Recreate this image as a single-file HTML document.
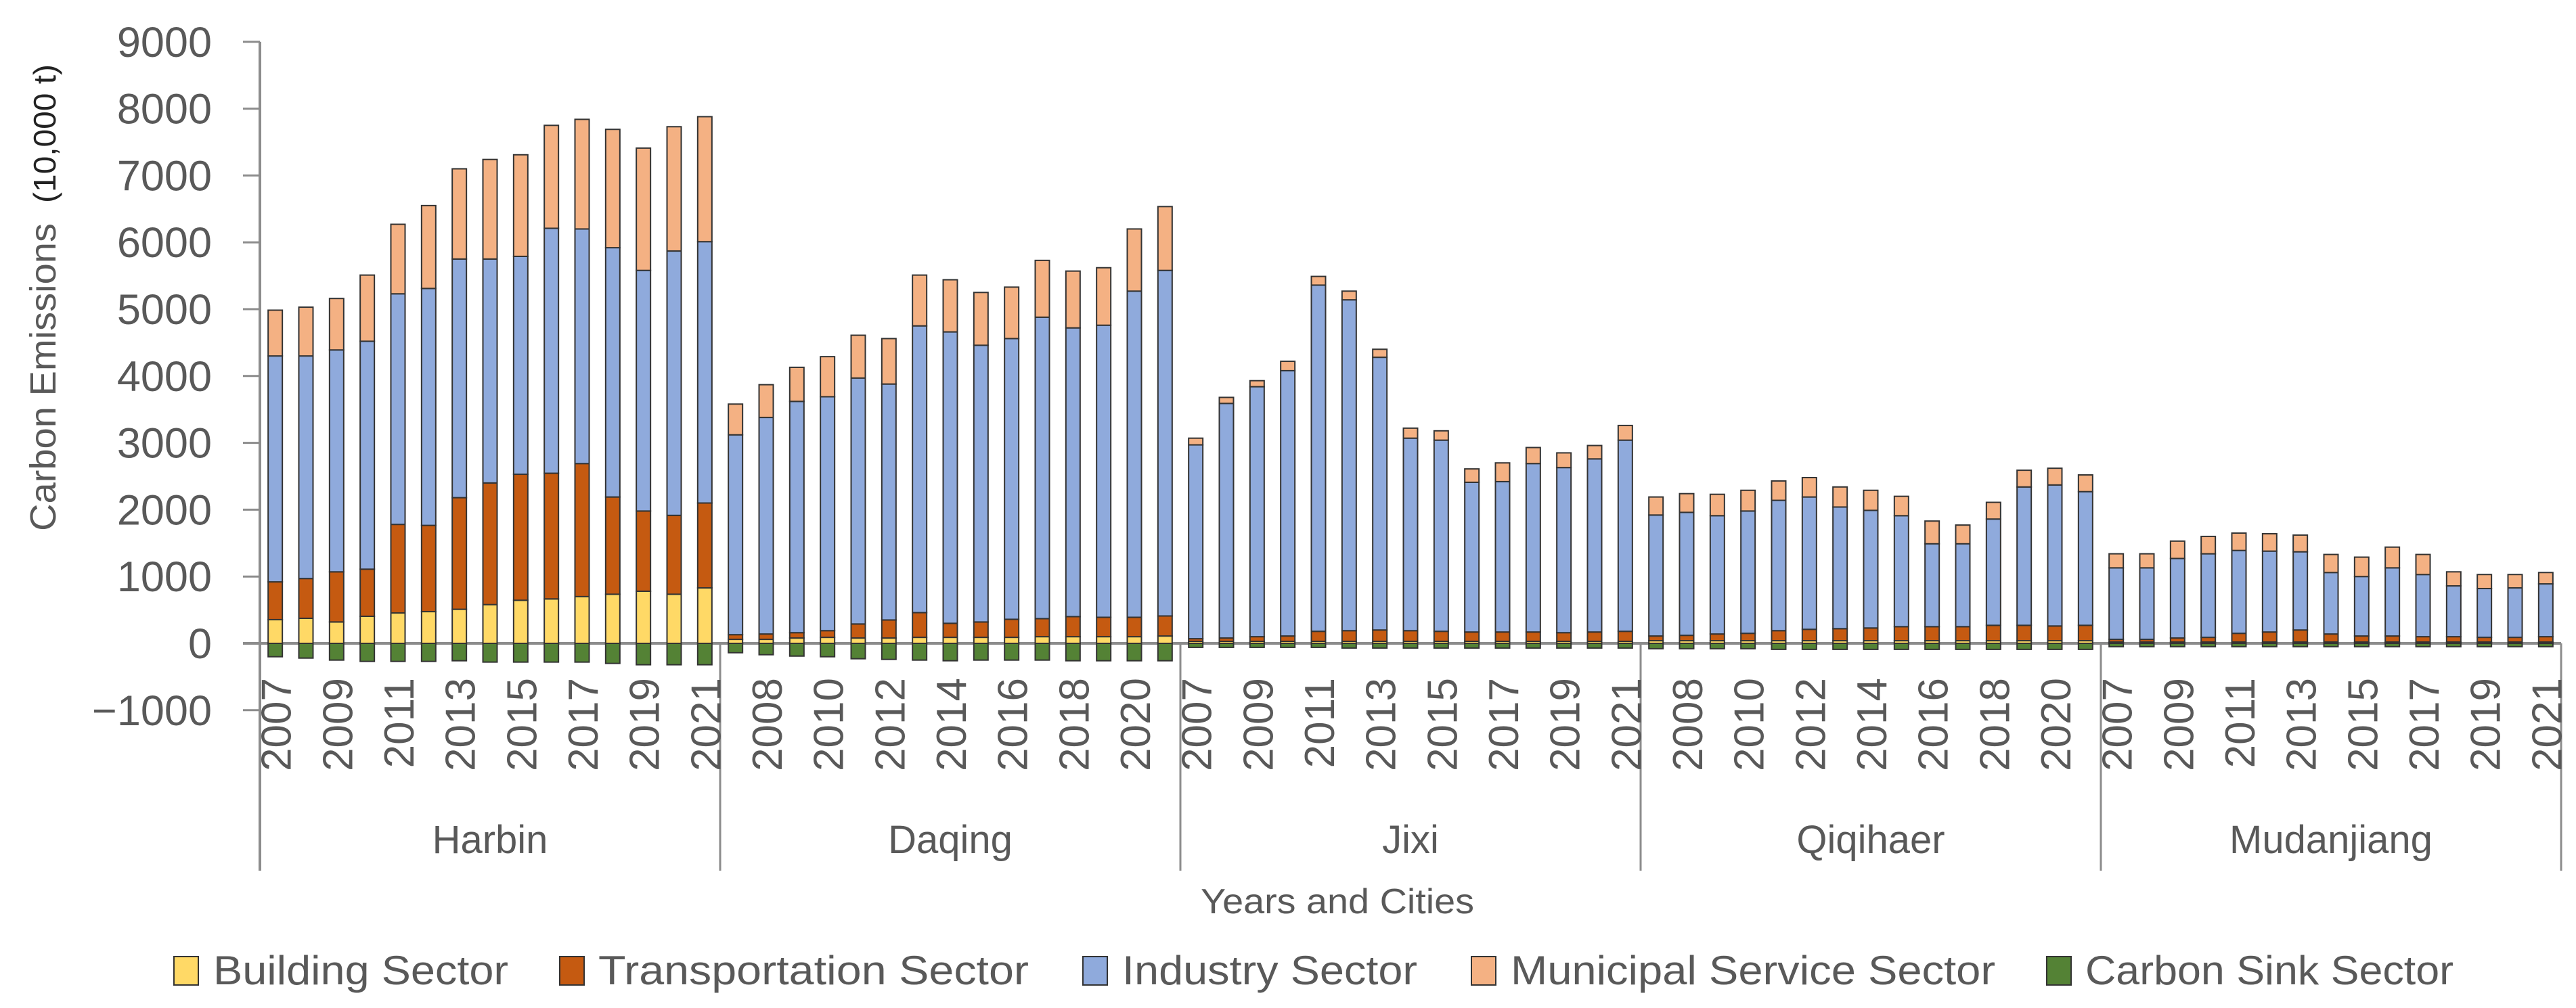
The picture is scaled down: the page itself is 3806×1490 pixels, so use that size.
<!DOCTYPE html>
<html><head><meta charset="utf-8"><style>
html,body{margin:0;padding:0;background:#fff;}
svg{display:block;font-family:"Liberation Sans",sans-serif;}
</style></head><body>
<svg id="chart" width="3806" height="1490" viewBox="0 0 3806 1490" xmlns="http://www.w3.org/2000/svg">
<g id="grid"></g>
<g id="bars"></g>
<g id="labels"></g>
<text transform="translate(82,440) rotate(-90)" text-anchor="middle" fill="#595959" font-size="54"><tspan textLength="455" lengthAdjust="spacingAndGlyphs">Carbon Emissions</tspan><tspan dx="30" font-size="46" fill="#222" textLength="205" lengthAdjust="spacingAndGlyphs">(10,000 t)</tspan></text>
<text x="1976" y="1350" text-anchor="middle" fill="#595959" font-size="52" textLength="404" lengthAdjust="spacingAndGlyphs">Years and Cities</text>
<g id="legend"></g>
</svg>
<script>
const cities = ["Harbin","Daqing","Jixi","Qiqihaer","Mudanjiang"];
const years = [2007,2008,2009,2010,2011,2012,2013,2014,2015,2016,2017,2018,2019,2020,2021];
const yTicks = [-1000,0,1000,2000,3000,4000,5000,6000,7000,8000,9000];
const seriesNames = ["Building Sector","Transportation Sector","Industry Sector","Municipal Service Sector","Carbon Sink Sector"];
const building = [
 355,375,320,405,455,475,510,580,645,665,700,735,780,735,830,
 60,60,80,90,80,80,90,90,90,90,100,100,100,100,110,
 30,30,30,30,30,30,30,30,30,30,30,30,30,30,30,
 40,40,40,40,40,40,40,40,40,40,40,40,40,40,40,
 20,20,20,20,20,20,20,20,20,20,20,20,20,20,20];
const transport = [
 565,595,750,705,1325,1290,1670,1820,1885,1880,1990,1455,1200,1180,1270,
 70,80,80,100,210,270,370,210,230,270,270,300,290,290,300,
 40,50,70,80,150,160,170,160,150,140,140,140,130,140,150,
 70,80,100,110,150,170,180,190,210,210,210,230,230,220,230,
 40,40,60,70,130,150,180,120,90,90,80,80,70,70,80];
const industry = [
 3380,3330,3320,3410,3450,3545,3570,3350,3260,3665,3510,3730,3600,3955,3910,
 2990,3240,3460,3500,3680,3530,4290,4360,4140,4200,4510,4320,4370,4880,5170,
 2900,3510,3740,3970,5180,4950,4080,2880,2860,2240,2250,2520,2470,2590,2860,
 1810,1840,1770,1830,1950,1980,1820,1760,1660,1240,1240,1590,2070,2110,2000,
 1070,1070,1190,1250,1240,1210,1170,920,890,1020,930,760,730,740,790];
const municipal = [
 685,730,770,990,1040,1240,1350,1490,1520,1540,1640,1770,1830,1860,1870,
 460,490,510,600,640,680,760,780,790,770,850,850,860,930,955,
 100,90,90,140,130,130,120,150,140,200,280,240,220,200,220,
 270,280,320,310,290,290,300,300,290,340,280,250,250,250,250,
 210,210,260,260,260,260,250,270,290,310,300,210,210,200,170];
const sink = [
 -200,-220,-250,-270,-270,-270,-260,-280,-280,-280,-280,-300,-320,-320,-320,
 -140,-170,-190,-200,-230,-240,-250,-260,-250,-250,-250,-260,-260,-260,-260,
 -60,-60,-60,-60,-60,-70,-70,-70,-70,-70,-70,-70,-70,-70,-70,
 -80,-80,-80,-80,-90,-90,-90,-90,-90,-90,-90,-90,-90,-90,-90,
 -50,-50,-50,-50,-50,-50,-50,-50,-50,-50,-50,-50,-50,-50,-50];

const NS="http://www.w3.org/2000/svg";
const colors=["#FFD966","#C55A11","#8FAADC","#F4B183","#548235"];
const X0=384, GW=680, Y0=951, PX=0.0988, BW=21;
const slot=GW/years.length;
function yScale(v){return Y0 - v*PX;}
function xCenter(g,i){return X0 + g*GW + (i+0.5)*slot;}
function mk(tag,attrs,parent){const e=document.createElementNS(NS,tag);for(const k in attrs)e.setAttribute(k,attrs[k]);parent.appendChild(e);return e;}
const grid=document.getElementById('grid'), barsG=document.getElementById('bars'), labG=document.getElementById('labels'), legG=document.getElementById('legend');
const axisColor="#8c8c8c";
let ax=mk('line',{x1:X0,y1:yScale(9000),x2:X0,y2:1287,stroke:axisColor,'stroke-width':4},grid);


yTicks.forEach(t=>{
  const y=yScale(t);
  const tk=mk('line',{x1:359,y1:y,x2:X0,y2:y,stroke:axisColor,'stroke-width':3},grid);
  
  
  const tx=mk('text',{x:313,y:y+22,'text-anchor':'end','font-size':63,fill:'#595959'},labG);
  tx.textContent=t<0?'\u2212'+Math.abs(t):String(t);
  
  
});
cities.forEach((c,g)=>{
  years.forEach((yr,i)=>{
    const k=g*years.length+i, cx=xCenter(g,i), x=cx-BW/2;
    let base=0;
    [building[k],transport[k],industry[k],municipal[k]].forEach((v,s)=>{
      const r=mk('rect',{x:x,y:yScale(base+v),width:BW,height:v*PX,fill:colors[s],stroke:'#333','stroke-width':2},barsG);
      
      
      base+=v;
    });
    const r=mk('rect',{x:x,y:yScale(0),width:BW,height:-sink[k]*PX,fill:colors[4],stroke:'#333','stroke-width':2},barsG);
    
    
    if(k%2===0){
      const tx=mk('text',{transform:'translate('+(cx+23)+',1002) rotate(-90)','text-anchor':'end','font-size':62,fill:'#595959'},labG);
      tx.textContent=String(yr);
      
      
    }
  });
  const sx=X0+(g+1)*GW;
  const sl=mk('line',{x1:sx,y1:Y0,x2:sx,y2:1287,stroke:axisColor,'stroke-width':3},grid);
  
  
  const ct=mk('text',{x:X0+g*GW+GW/2,y:1261,'text-anchor':'middle','font-size':58,fill:'#595959'},labG);
  ct.textContent=c;
  
  
});
const zl=mk('line',{x1:359,y1:Y0,x2:X0+GW*cities.length,y2:Y0,stroke:axisColor,'stroke-width':4},grid);


const legSq=[257,827,1600,2174,3024], legTx=[315,884,1658,2232,3081], legEnd=[751,1520,2094,2948,3625];
seriesNames.forEach((n,s)=>{
  const r=mk('rect',{x:legSq[s],y:1414,width:36,height:42,fill:colors[s],stroke:'#333','stroke-width':2},legG);
  
  
  const t=mk('text',{x:legTx[s],y:1455,'font-size':60,fill:'#595959',textLength:legEnd[s]-legTx[s],lengthAdjust:'spacingAndGlyphs'},legG);
  t.textContent=n;
  
  
});
</script>
</body></html>
